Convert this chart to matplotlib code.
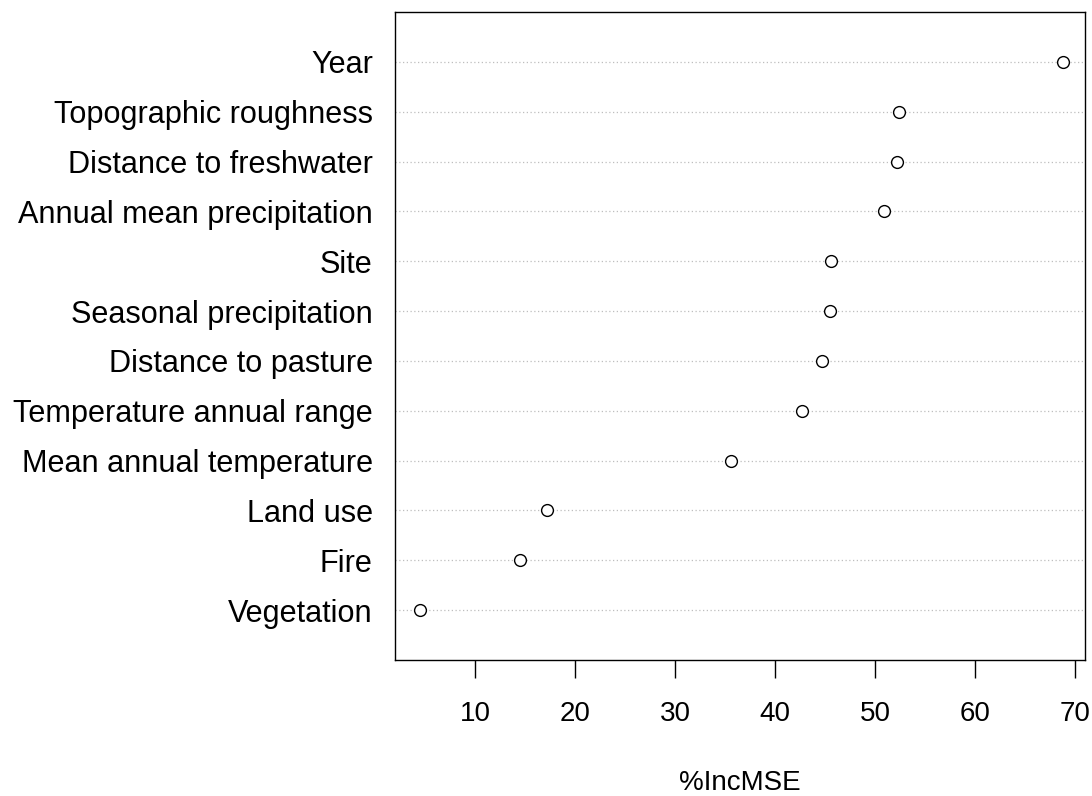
import numpy as np
import matplotlib
matplotlib.use("Agg")
from matplotlib import pyplot as plt

plt.rcParams['font.family'] = ['Liberation Sans', 'DejaVu Sans']

# variables listed from bottom to top, like in the R dotchart
variables = ["Vegetation", "Fire", "Land use", "Mean annual temperature",
             "Temperature annual range", "Distance to pasture",
             "Seasonal precipitation", "Site", "Annual mean precipitation",
             "Distance to freshwater", "Topographic roughness", "Year"]
inc_mse = [4.47, 14.45, 17.15, 35.55, 42.65, 44.65,
           45.45, 45.55, 50.85, 52.15, 52.35, 68.83]

ticks = [10, 20, 30, 40, 50, 60, 70]

fig = plt.figure(figsize=(10.92, 7.96), dpi=100)
ax = fig.add_axes([395 / 1092, 136 / 796, 690 / 1092, 648 / 796])

y = np.arange(1, len(variables) + 1)

for yy in y:
    ax.axhline(yy, color="#bebebe", linestyle=(0, (1, 2)), linewidth=0.9, zorder=1)

ax.plot(inc_mse, y, linestyle="none", marker="o", markersize=8.5,
        markerfacecolor="white", markeredgecolor="black", markeredgewidth=1.0,
        zorder=3)

ax.set_xlim(2.0, 71.0)
ax.set_ylim(0, len(variables) + 1)

ax.set_xticks(ticks)
ax.set_xticklabels([str(t) for t in ticks], fontsize=20)
ax.tick_params(axis="x", length=13, width=1, pad=16.5)

ax.set_yticks(y)
ax.set_yticklabels(variables, fontsize=22.1)
ax.tick_params(axis="y", length=0, pad=16)

for sp in ax.spines.values():
    sp.set_linewidth(1)

ax.set_xlabel("%IncMSE", fontsize=20, labelpad=31)

fig.savefig("out.png", dpi=100)
